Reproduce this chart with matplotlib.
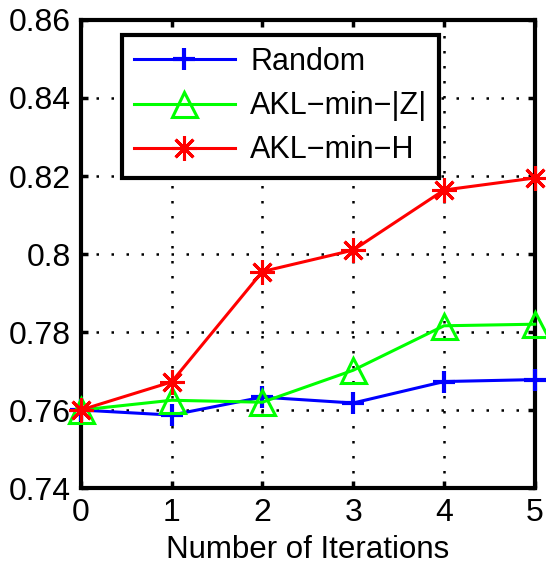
import matplotlib
matplotlib.use("Agg")
import matplotlib.pyplot as plt

plt.rcParams["font.family"] = ["Liberation Sans", "DejaVu Sans"]

# data
iterations = [0, 1, 2, 3, 4, 5]
random_acc = [0.7600, 0.7587, 0.7633, 0.7618, 0.7673, 0.7678]
akl_min_z = [0.7600, 0.7625, 0.7620, 0.7702, 0.7816, 0.7820]
akl_min_h = [0.7600, 0.7672, 0.7955, 0.8010, 0.8164, 0.8195]

x_ticks = [0, 1, 2, 3, 4, 5]
y_ticks = [0.74, 0.76, 0.78, 0.80, 0.82, 0.84, 0.86]
y_tick_labels = ["0.74", "0.76", "0.78", "0.8", "0.82", "0.84", "0.86"]

fig = plt.figure(figsize=(5.46, 5.68), dpi=100)
ax = fig.add_axes([0.148, 0.1408, 0.8315, 0.824])

ax.plot(iterations, random_acc, color="#0000ff", lw=2.2, marker="+",
        ms=16, mew=3, label="Random", clip_on=False, zorder=3)
ax.plot(iterations, akl_min_z, color="#00ff00", lw=2.2, marker="^",
        ms=18, mew=2.2, mfc="none", label="AKL\u2212min\u2212|Z|",
        clip_on=False, zorder=3)
ax.plot(iterations, akl_min_h, color="#ff0000", lw=2.2, marker=(8, 2, 0),
        ms=18, mew=2.2, label="AKL\u2212min\u2212H", clip_on=False, zorder=4)

ax.set_xlim(0, 5)
ax.set_ylim(0.74, 0.86)
ax.set_xticks(x_ticks)
ax.set_yticks(y_ticks)
ax.set_yticklabels(y_tick_labels)
ax.tick_params(direction="in", length=5, width=2.5, labelsize=23,
               top=True, right=True, pad=7)
ax.grid(True, color="black", linestyle=(0, (1, 5)), lw=1.8)

for sp in ax.spines.values():
    sp.set_linewidth(3)

ax.set_xlabel("Number of Iterations", fontsize=22.5, labelpad=5)

leg = ax.legend(loc="upper left", bbox_to_anchor=(0.09, 0.968),
                borderaxespad=0, fontsize=22, handlelength=3.3,
                fancybox=False, framealpha=1, edgecolor="black",
                borderpad=0.4, labelspacing=0.46, handletextpad=0.5)
leg.get_frame().set_linewidth(3)

fig.savefig("out.png", dpi=100)
